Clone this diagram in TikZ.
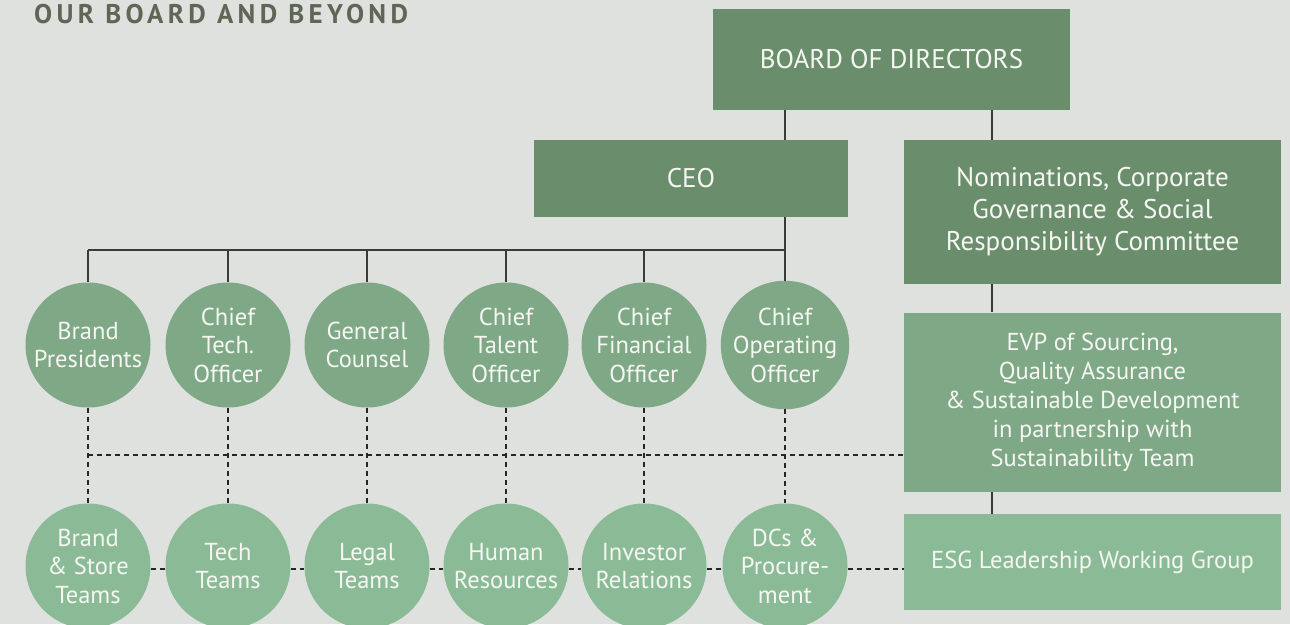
\documentclass[tikz,border=0pt]{standalone}
\usepackage{fontspec}
\setmainfont{PT Sans}
\newfontfamily\titlefont[LetterSpace=16]{PT Sans Bold}
\definecolor{bgc}{HTML}{DFE1DE}
\definecolor{darkgreen}{HTML}{6A8E6C}
\definecolor{midgreen}{HTML}{7EA886}
\definecolor{lightgreen}{HTML}{8BBB96}
\definecolor{titlecol}{HTML}{5E6656}
\definecolor{linecol}{HTML}{3A3A3A}
\definecolor{textcol}{HTML}{F6F7F2}
\tikzset{
  box/.style={rectangle, inner sep=0pt, align=center, text=textcol,
    font=\fontsize{27}{32}\selectfont},
  role/.style={circle, minimum size=125pt, inner sep=0pt, align=center,
    text=textcol, font=\fontsize{24.5}{28.5}\selectfont},
  officer/.style={role, fill=midgreen},
  team/.style={role, fill=lightgreen},
  solidlink/.style={draw=linecol, line width=1.4pt},
  dottedlink/.style={draw=black!85, line width=1.3pt, dash pattern=on 5pt off 4pt}
}
\begin{document}
\begin{tikzpicture}[x=1pt,y=-1pt]
\fill[bgc] (0,0) rectangle (1290,624);
\useasboundingbox (0,0) rectangle (1290,624);

% heading
\node[anchor=base west, inner sep=0pt, text=titlecol, font=\titlefont\fontsize{27}{30}\selectfont]
  (title) at (34,23) {OUR BOARD AND BEYOND};

% governance boxes
\node[box, fill=darkgreen, minimum width=357pt, minimum height=101pt] (board) at (891.5,59.5) {BOARD OF DIRECTORS};
\node[box, fill=darkgreen, minimum width=314pt, minimum height=77pt] (ceo) at (691,178.5) {CEO};
\node[box, fill=darkgreen, minimum width=377pt, minimum height=144pt] (nom) at (1092.5,212)
  {Nominations, Corporate\\Governance \& Social\\Responsibility Committee};
\node[box, fill=midgreen, minimum width=377pt, minimum height=179pt,
  font=\fontsize{24.5}{29}\selectfont] (evp) at (1092.5,402)
  {EVP of Sourcing,\\Quality Assurance\\\& Sustainable Development\\in partnership with\\Sustainability Team};
\node[box, fill=lightgreen, minimum width=377pt, minimum height=96pt,
  font=\fontsize{24.5}{29}\selectfont] (esg) at (1092.5,562) {ESG Leadership Working Group};

% officers
\node[officer] (o1) at (88,345)  {Brand\\Presidents};
\node[officer] (o2) at (228,345) {Chief\\Tech.\\Officer};
\node[officer] (o3) at (367,345) {General\\Counsel};
\node[officer] (o4) at (506,345) {Chief\\Talent\\Officer};
\node[officer] (o5) at (644,345) {Chief\\Financial\\Officer};
\node[officer] (o6) at (785,345) {Chief\\Operating\\Officer};

% teams
\node[team] (t1) at (88,566)  {Brand\\\& Store\\Teams};
\node[team] (t2) at (228,566) {Tech\\Teams};
\node[team] (t3) at (367,566) {Legal\\Teams};
\node[team] (t4) at (506,566) {Human\\Resources};
\node[team] (t5) at (644,566) {Investor\\Relations};
\node[team] (t6) at (785,566) {DCs \&\\Procure-\\ment};

% helper points for the reporting lines
\coordinate (bus) at (0,250);
\coordinate (spine) at (992,0);
\coordinate (crossline) at (88,455);

% reporting lines
\draw[solidlink] (board.south -| o6.north) -- (ceo.north -| o6.north);
\draw[solidlink] (board.south -| spine) -- (nom.north -| spine);
\draw[solidlink] (nom.south -| spine) -- (evp.north -| spine);
\draw[solidlink] (evp.south -| spine) -- (esg.north -| spine);
\draw[solidlink] (ceo.south -| o6.north) -- (o6.north);
\draw[solidlink] (o1.north |- bus) -- (o6.north |- bus);
\foreach \i in {1,...,5} {
  \draw[solidlink] (o\i.north |- bus) -- (o\i.north);
}

% dotted links between officers, teams and the sustainability group
\foreach \i in {1,...,6} {
  \draw[dottedlink] (o\i.south) -- (t\i.north);
}
\draw[dottedlink] (crossline) -- (crossline -| evp.west);
\foreach \i/\j in {1/2,2/3,3/4,4/5,5/6} {
  \draw[dottedlink] ([yshift=-3pt]t\i.east) -- ([yshift=-3pt]t\j.west);
}
\draw[dottedlink] ([yshift=-3pt]t6.east) -- ([yshift=-3pt]t6.east -| esg.west);
\end{tikzpicture}
\end{document}
